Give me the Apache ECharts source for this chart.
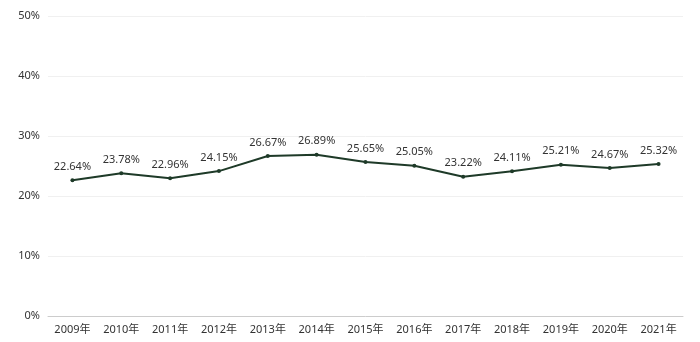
<!DOCTYPE html>
<html><head><meta charset="utf-8">
<script src="https://cdn.jsdelivr.net/npm/echarts@6/dist/echarts.min.js"></script>
<style>html,body{margin:0;padding:0;background:#fff}#c{width:700px;height:342px}</style>
</head><body><div id="c"></div>
<script>
const categories = ['2009年','2010年','2011年','2012年','2013年','2014年','2015年','2016年','2017年','2018年','2019年','2020年','2021年'];
const values = [22.64, 23.78, 22.96, 24.15, 26.67, 26.89, 25.65, 25.05, 23.22, 24.11, 25.21, 24.67, 25.32];
const chart = echarts.init(document.getElementById('c'));
const font = '"Noto Sans", "Noto Sans CJK SC", sans-serif';
chart.setOption({
  animation: false,
  grid: {left: 48, right: 17, top: 16, bottom: 26},
  xAxis: {
    type: 'category', data: categories, boundaryGap: true,
    axisLine: {lineStyle: {color: '#cccccc'}},
    axisTick: {show: false},
    axisLabel: {color: '#333', fontSize: 11, fontFamily: font, margin: 8}
  },
  yAxis: {
    type: 'value', min: 0, max: 50, interval: 10,
    axisLabel: {formatter: '{value}%', color: '#333', fontSize: 11, fontFamily: font, margin: 8},
    splitLine: {lineStyle: {color: '#f0f0f0'}},
    axisLine: {show: false}, axisTick: {show: false}
  },
  series: [{
    type: 'line', data: values,
    symbol: 'circle', symbolSize: 4,
    lineStyle: {color: '#1e3a28', width: 2},
    itemStyle: {color: '#1e3a28'},
    label: {show: true, position: 'top', formatter: p => p.value.toFixed(2) + '%', color: '#333', fontSize: 11, fontFamily: font, distance: 6}
  }]
});
</script></body></html>
